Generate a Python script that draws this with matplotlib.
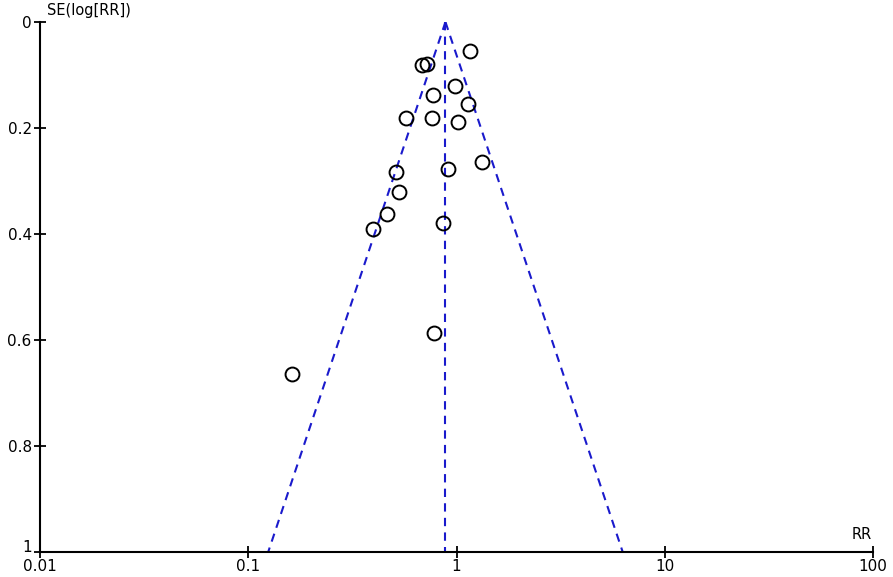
import matplotlib.pyplot as plt
import matplotlib.transforms as mtransforms
import numpy as np

# study estimates
rr = [1.155, 0.68, 0.718, 0.988, 0.767, 1.14, 0.575, 0.759, 1.02,
      1.33, 0.906, 0.515, 0.532, 0.466, 0.399, 0.865, 0.783, 0.163]
se = [0.055, 0.081, 0.079, 0.121, 0.138, 0.155, 0.181, 0.181, 0.189,
      0.264, 0.277, 0.283, 0.321, 0.362, 0.391, 0.379, 0.587, 0.664]
pooled_rr = 0.885

x_ticks = [0.01, 0.1, 1, 10, 100]
x_ticklabels = ["0.01", "0.1", "1", "10", "100"]
y_ticks = [0, 0.2, 0.4, 0.6, 0.8, 1]
y_ticklabels = ["0", "0.2", "0.4", "0.6", "0.8", "1"]

fig = plt.figure(figsize=(8.93, 5.77), dpi=100)
ax = fig.add_axes([0.0448, 0.0433, 0.9328, 0.9186])

# funnel (95% pseudo confidence limits)
se_line = np.array([0.0, 1.0])
lo = np.exp(np.log(pooled_rr) - 1.96 * se_line)
hi = np.exp(np.log(pooled_rr) + 1.96 * se_line)
blue = "#1a1acc"
ax.plot(lo, se_line, color=blue, lw=1.5, ls=(0, (4, 3)))
ax.plot(hi, se_line, color=blue, lw=1.5, ls=(0, (4, 3)))
ax.plot([pooled_rr, pooled_rr], se_line, color=blue, lw=1.5, ls=(0, (4, 3)))

ax.plot(rr, se, "o", mfc="none", mec="black", mew=1.4, ms=10, ls="none")

ax.set_xscale("log")
ax.set_xlim(0.01, 100)
ax.set_ylim(1, 0)
ax.set_xticks(x_ticks)
ax.set_xticklabels(x_ticklabels)
ax.xaxis.set_minor_locator(plt.NullLocator())
ax.set_yticks(y_ticks)
ax.set_yticklabels(y_ticklabels)

for s in ["top", "right"]:
    ax.spines[s].set_visible(False)
for s in ["left", "bottom"]:
    ax.spines[s].set_linewidth(1.5)
ax.tick_params(axis="x", direction="inout", length=8, width=1.3, labelsize=11, pad=1)
ax.tick_params(axis="y", direction="inout", length=8, width=1.3, labelsize=11, pad=2)

# nudge the bottom y label up so it clears the "0.01" below it
last = ax.get_yticklabels()[-1]
last.set_transform(last.get_transform() +
                   mtransforms.ScaledTranslation(0, 4 / 72, fig.dpi_scale_trans))

ax.text(0.0108, -0.008, "SE(log[RR])", fontsize=10.5, ha="left", va="bottom")
ax.text(99, 0.982, "RR", fontsize=10.5, ha="right", va="bottom")

fig.savefig("out.png", dpi=100)
